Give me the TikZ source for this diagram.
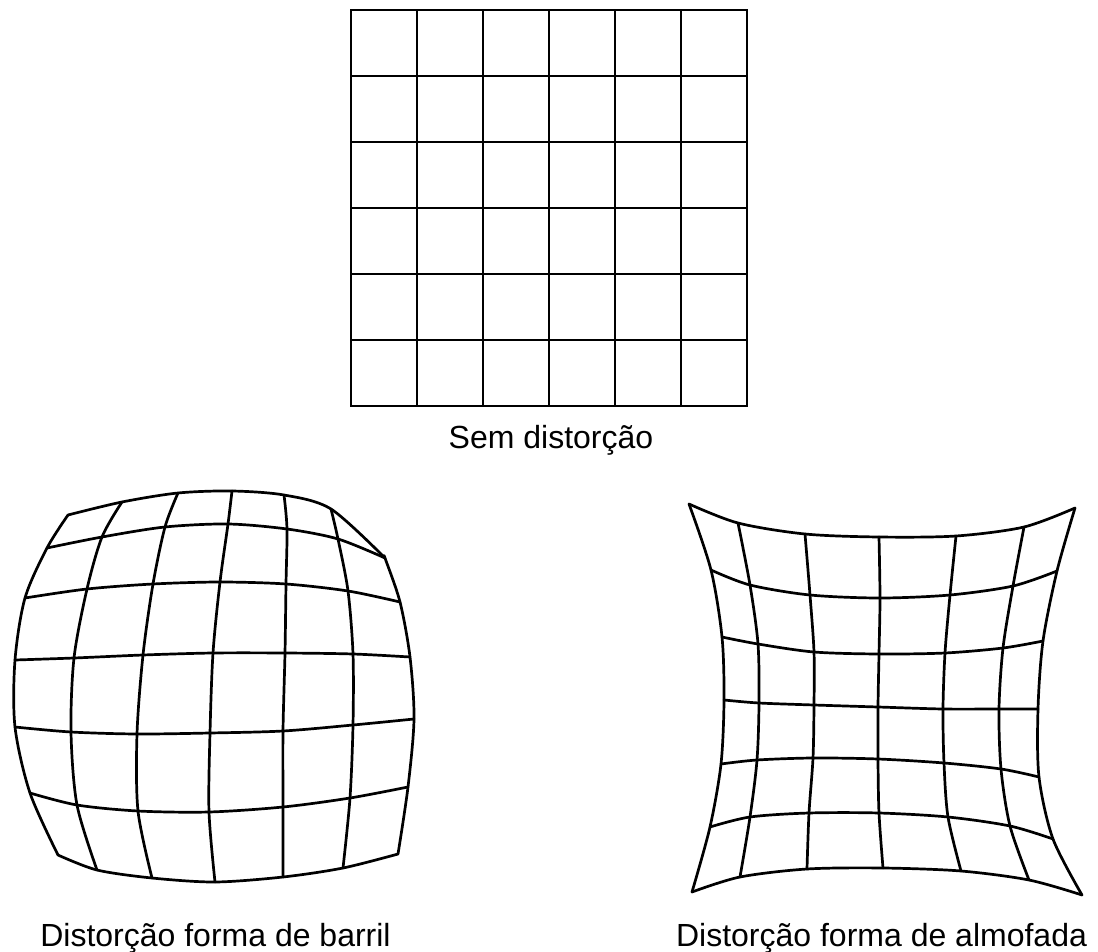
\documentclass[tikz,border=0pt]{standalone}
\usepackage{fontspec}
\setmainfont{Liberation Sans}
\usepackage{tikz}
\tikzset{
  gridline/.style={line width=2.8pt, line cap=rect},
  warp/.style={line width=2.7pt, line join=round, line cap=round},
  caption/.style={font=\fontsize{32}{38}\selectfont, inner sep=0pt, anchor=base},
}

\begin{document}
\begin{tikzpicture}[x=1pt, y=-1pt]
\useasboundingbox (0,0) rectangle (1098,952);
% undistorted grid
\foreach \k in {0,...,6} {
  \draw[gridline] (351+66*\k,10) -- (351+66*\k,406);
  \draw[gridline] (351,10+66*\k) -- (747,10+66*\k);
}
\node[caption] (semlbl) at (551,448) {Sem distorção};
% barrel grid points, row by row
\path (68,515) coordinate (b00) (122,502) coordinate (b01) (178,493) coordinate (b02) (232,491) coordinate (b03) (284,495) coordinate (b04) (331,509) coordinate (b05) (385,558) coordinate (b06);
\path (47,548) coordinate (b10) (102,537) coordinate (b11) (165,527) coordinate (b12) (228,524) coordinate (b13) (287,529) coordinate (b14) (338,539) coordinate (b15) (385,558) coordinate (b16);
\path (25,598) coordinate (b20) (87,589) coordinate (b21) (153,584) coordinate (b22) (220,582) coordinate (b23) (286,584) coordinate (b24) (348,591) coordinate (b25) (400,602) coordinate (b26);
\path (15,660) coordinate (b30) (74,658) coordinate (b31) (143,655) coordinate (b32) (213,653) coordinate (b33) (285,653) coordinate (b34) (353,654) coordinate (b35) (410,657) coordinate (b36);
\path (15,727) coordinate (b40) (71,732) coordinate (b41) (137,734) coordinate (b42) (210,733) coordinate (b43) (283,731) coordinate (b44) (353,725) coordinate (b45) (414,719) coordinate (b46);
\path (30,793) coordinate (b50) (77,805) coordinate (b51) (138,811) coordinate (b52) (209,812) coordinate (b53) (283,807) coordinate (b54) (350,798) coordinate (b55) (408,787) coordinate (b56);
\path (58,855) coordinate (b60) (97,870) coordinate (b61) (152,878) coordinate (b62) (215,882) coordinate (b63) (283,877) coordinate (b64) (343,868) coordinate (b65) (398,854) coordinate (b66);
% pincushion grid points, row by row
\path (689,504) coordinate (p00) (738,523) coordinate (p01) (805,534) coordinate (p02) (879,537) coordinate (p03) (956,536) coordinate (p04) (1024,527) coordinate (p05) (1075,508) coordinate (p06);
\path (711,570) coordinate (p10) (750,585) coordinate (p11) (810,595) coordinate (p12) (880,598) coordinate (p13) (950,595) coordinate (p14) (1013,586) coordinate (p15) (1057,571) coordinate (p16);
\path (722,637) coordinate (p20) (758,644) coordinate (p21) (814,652) coordinate (p22) (879,654) coordinate (p23) (945,653) coordinate (p24) (1003,648) coordinate (p25) (1043,641) coordinate (p26);
\path (724,700) coordinate (p30) (759,703) coordinate (p31) (814,705) coordinate (p32) (878,707) coordinate (p33) (943,709) coordinate (p34) (999,709) coordinate (p35) (1038,709) coordinate (p36);
\path (721,764) coordinate (p40) (757,760) coordinate (p41) (813,758) coordinate (p42) (878,759) coordinate (p43) (944,763) coordinate (p44) (1001,769) coordinate (p45) (1039,777) coordinate (p46);
\path (710,827) coordinate (p50) (750,817) coordinate (p51) (809,813) coordinate (p52) (879,813) coordinate (p53) (948,817) coordinate (p54) (1010,826) coordinate (p55) (1053,839) coordinate (p56);
\path (692,892) coordinate (p60) (740,877) coordinate (p61) (807,869) coordinate (p62) (883,868) coordinate (p63) (961,871) coordinate (p64) (1029,880) coordinate (p65) (1082,895) coordinate (p66);
% rows and columns
\foreach \g in {b,p} {
  \foreach \i in {0,...,6} {
    \draw[warp] plot[smooth] coordinates {(\g\i0) (\g\i1) (\g\i2) (\g\i3) (\g\i4) (\g\i5) (\g\i6)};
    \draw[warp] plot[smooth] coordinates {(\g0\i) (\g1\i) (\g2\i) (\g3\i) (\g4\i) (\g5\i) (\g6\i)};
  }
}
\node[caption] (barrillbl) at (215.5,946) {Distorção forma de barril};
\node[caption] (almolbl) at (881.5,946) {Distorção forma de almofada};
\end{tikzpicture}
\end{document}
